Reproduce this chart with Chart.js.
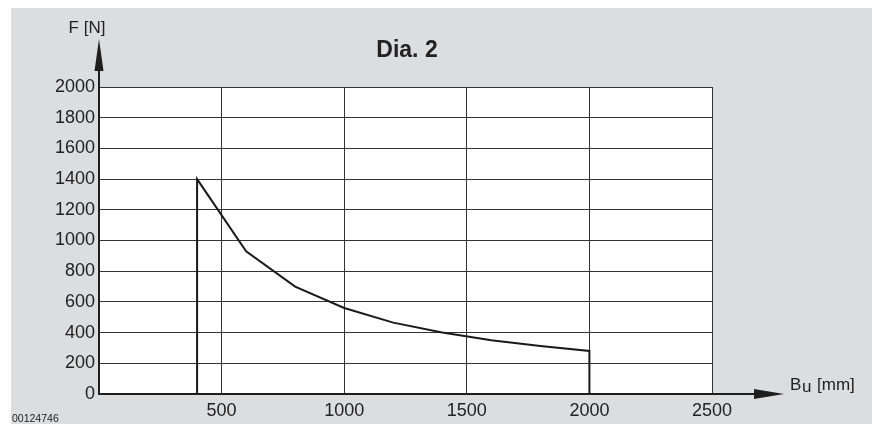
<!DOCTYPE html>
<html>
<head>
<meta charset="utf-8">
<script src="https://cdn.jsdelivr.net/npm/chart.js@4/dist/chart.umd.min.js"></script>
<style>
html,body{margin:0;padding:0;background:#fff;}
#wrap{width:872px;height:424px;position:relative;}
</style>
</head>
<body>
<div id="wrap"><canvas id="c"></canvas></div>
<script>
// Data
const widthsBu = [400, 400, 600, 800, 1000, 1200, 1400, 1600, 1800, 2000, 2000];
const forcesF  = [0, 1400, 930, 700, 560, 465, 400, 350, 312, 280, 0];
const xTickValues = [500, 1000, 1500, 2000, 2500];
const yTickValues = [0, 200, 400, 600, 800, 1000, 1200, 1400, 1600, 1800, 2000];
const titleText = 'Dia. 2';
const yAxisTitle = 'F [N]';
const xAxisTitleMain = 'B';
const xAxisTitleSub = 'u';
const xAxisTitleUnit = '[mm]';
const docNumber = '00124746';

const FONT = '"Liberation Sans", Arial, Helvetica, sans-serif';
const points = widthsBu.map((x, i) => ({x: x, y: forcesF[i]}));

const decor = {
  id: 'decor',
  beforeDraw(chart) {
    const ctx = chart.ctx, a = chart.chartArea;
    ctx.save();
    ctx.fillStyle = '#ffffff';
    ctx.fillRect(0, 0, chart.width, chart.height);
    ctx.fillStyle = '#dcdddf';
    ctx.fillRect(11, 8, chart.width - 11, chart.height - 8);
    ctx.fillStyle = '#ffffff';
    ctx.fillRect(a.left, a.top, a.right - a.left, a.bottom - a.top);
    ctx.restore();
  },
  afterDraw(chart) {
    const ctx = chart.ctx, a = chart.chartArea;
    const xs = chart.scales.x, ys = chart.scales.y;
    const x0 = xs.getPixelForValue(0), y0 = ys.getPixelForValue(0);
    ctx.save();
    ctx.strokeStyle = '#1e1e1e';
    ctx.fillStyle = '#1e1e1e';
    ctx.lineWidth = 2;
    // y axis extension + arrow
    ctx.beginPath();
    ctx.moveTo(x0, a.top);
    ctx.lineTo(x0, 68);
    ctx.stroke();
    ctx.beginPath();
    ctx.moveTo(x0, 39);
    ctx.lineTo(x0 + 4.5, 71);
    ctx.lineTo(x0 - 4.5, 71);
    ctx.closePath();
    ctx.fill();
    // x axis extension + arrow
    ctx.beginPath();
    ctx.moveTo(a.right, y0);
    ctx.lineTo(757, y0);
    ctx.stroke();
    ctx.beginPath();
    ctx.moveTo(784, y0);
    ctx.lineTo(754, y0 - 5);
    ctx.lineTo(754, y0 + 5);
    ctx.closePath();
    ctx.fill();
    // title
    ctx.fillStyle = '#222';
    ctx.textAlign = 'center';
    ctx.textBaseline = 'alphabetic';
    ctx.font = 'bold 23px ' + FONT;
    ctx.fillText(titleText, 407, 57);
    // axis titles
    ctx.font = '17px ' + FONT;
    ctx.fillText(yAxisTitle, 87, 33);
    ctx.textAlign = 'left';
    ctx.fillText(xAxisTitleMain, 790, 390);
    ctx.fillText(xAxisTitleSub, 802, 392);
    ctx.fillText(xAxisTitleUnit, 817, 390);
    ctx.font = '10.5px ' + FONT;
    ctx.fillText(docNumber, 12, 422);
    ctx.restore();
  }
};

new Chart(document.getElementById('c'), {
  type: 'scatter',
  data: {
    datasets: [{
      data: points,
      showLine: true,
      borderColor: '#1a1a1a',
      borderWidth: 2,
      pointRadius: 0,
      tension: 0,
      fill: false
    }]
  },
  options: {
    responsive: true,
    maintainAspectRatio: false,
    animation: false,
    layout: {padding: {left: 0, right: 160, top: 87, bottom: 0}},
    plugins: {
      legend: {display: false},
      tooltip: {enabled: false},
      title: {display: false}
    },
    scales: {
      x: {
        type: 'linear',
        min: 0,
        max: 2500,
        afterFit(s) { s.height = 30; },
        afterBuildTicks(s) { s.ticks = [0].concat(xTickValues).map(v => ({value: v})); },
        ticks: {
          color: '#222',
          font: {family: FONT, size: 18},
          padding: 6,
          maxRotation: 0,
          autoSkip: false,
          callback: (v) => (v === 0 ? '' : String(v))
        },
        grid: {color: '#333', lineWidth: 1, drawTicks: false},
        border: {color: '#1e1e1e', width: 2}
      },
      y: {
        type: 'linear',
        min: 0,
        max: 2000,
        afterFit(s) { s.width = 99; },
        afterBuildTicks(s) { s.ticks = yTickValues.map(v => ({value: v})); },
        ticks: {
          color: '#222',
          font: {family: FONT, size: 18},
          padding: 4,
          autoSkip: false,
          callback: (v) => String(v)
        },
        grid: {color: '#333', lineWidth: 1, drawTicks: false},
        border: {color: '#1e1e1e', width: 2}
      }
    }
  },
  plugins: [decor]
});
</script>
</body>
</html>
